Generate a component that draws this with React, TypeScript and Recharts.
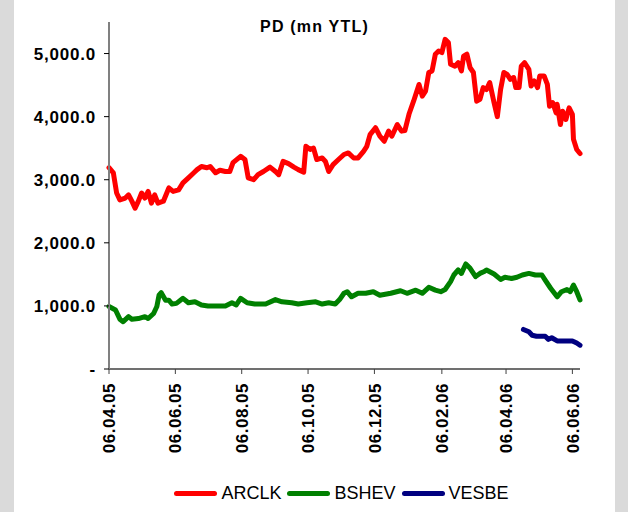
import React from "react";
import { LineChart, Line, XAxis, YAxis, Legend } from "recharts";

// x values are trading days counted from 06.04.05
const tickDays = [0, 61, 122, 183, 244, 306, 365, 426];
const tickLabels = ["06.04.05", "06.06.05", "06.08.05", "06.10.05", "06.12.05", "06.02.06", "06.04.06", "06.06.06"];
const yTicks = [0, 1000, 2000, 3000, 4000, 5000];

const arclkDays = [
	0, 4, 7, 10, 15, 18, 21, 24, 27, 30, 33, 36, 39, 42, 45, 50, 55, 59, 64, 68, 73, 78, 81, 85, 90, 93, 98, 102, 107,
	111, 114, 121, 125, 128, 133, 137, 142, 148, 153, 156, 160, 165, 170, 174, 179, 181, 185, 188, 191, 196, 199, 202,
	206, 211, 216, 220, 225, 229, 234, 237, 240, 245, 249, 253, 257, 260, 265, 269, 272, 276, 280, 285, 288, 291, 294,
	297, 300, 303, 306, 309, 312, 314, 318, 321, 324, 326, 329, 332, 335, 338, 341, 344, 347, 350, 354, 357, 360, 363,
	366, 369, 372, 374, 377, 379, 382, 386, 388, 391, 394, 396, 400, 403, 405, 408, 411, 412, 415, 417, 420, 423, 426,
	427, 430, 433,
];
const arclkValues = [
	3190, 3110, 2790, 2680, 2710, 2760, 2660, 2550, 2660, 2790, 2710, 2815, 2630, 2760, 2630, 2660, 2870, 2815, 2840,
	2950, 3030, 3110, 3160, 3210, 3190, 3210, 3110, 3150, 3130, 3130, 3270, 3370, 3320, 3030, 3000, 3080, 3130, 3200,
	3130, 3080, 3290, 3255, 3200, 3160, 3120, 3530, 3480, 3500, 3320, 3345, 3290, 3130, 3240, 3320, 3400, 3425, 3345,
	3345, 3450, 3530, 3715, 3825, 3690, 3610, 3770, 3690, 3875, 3770, 3780, 4050, 4245, 4510, 4325, 4405, 4700, 4725,
	4990, 5040, 5015, 5225, 5175, 4830, 4800, 4855, 4725, 4960, 4990, 4775, 4700, 4245, 4275, 4460, 4430, 4540, 4220,
	4000, 4430, 4700, 4670, 4590, 4620, 4460, 4460, 4800, 4855, 4750, 4485, 4565, 4460, 4645, 4645, 4510, 4165, 4220,
	4060, 4195, 3875, 4085, 3955, 4140, 4035, 3640, 3480, 3415,
];

const bshevDays = [
	0, 6, 10, 13, 18, 21, 27, 33, 36, 41, 44, 46, 48, 52, 55, 58, 62, 68, 73, 79, 85, 91, 101, 107, 113, 117, 121, 127,
	134, 144, 153, 159, 168, 174, 182, 190, 196, 202, 208, 212, 216, 219, 223, 229, 236, 243, 249, 259, 268, 274, 282,
	288, 294, 300, 305, 309, 314, 317, 321, 324, 328, 332, 337, 341, 345, 347, 354, 360, 364, 370, 375, 380, 386, 392,
	398, 401, 406, 412, 416, 421, 424, 427, 430, 433,
];
const bshevValues = [
	990, 935, 790, 750, 830, 790, 800, 830, 800, 880, 990, 1170, 1210, 1090, 1090, 1030, 1040, 1120, 1050, 1065, 1015,
	1000, 1000, 1000, 1050, 1015, 1120, 1050, 1030, 1030, 1100, 1065, 1050, 1030, 1050, 1065, 1030, 1050, 1030, 1100,
	1200, 1225, 1145, 1200, 1200, 1225, 1170, 1200, 1240, 1200, 1250, 1200, 1295, 1250, 1225, 1260, 1385, 1490, 1570,
	1515, 1665, 1595, 1465, 1515, 1545, 1570, 1505, 1420, 1455, 1435, 1455, 1490, 1515, 1490, 1490, 1410, 1280, 1145,
	1225, 1260, 1225, 1330, 1225, 1095,
];

const vesbeDays = [381, 386, 389, 393, 401, 404, 407, 412, 418, 426, 430, 433];
const vesbeValues = [627, 590, 535, 520, 520, 470, 495, 445, 445, 445, 413, 377];

const seriesNames = ["ARCLK", "BSHEV", "VESBE"];
const seriesColors = ["#ff0000", "#008000", "#000080"];

const toPoints = (days: number[], values: number[]) => days.map((day, i) => ({ day, value: values[i] }));
const seriesData = [
	toPoints(arclkDays, arclkValues),
	toPoints(bshevDays, bshevValues),
	toPoints(vesbeDays, vesbeValues),
];

const FONT = '"Liberation Sans", Arial, sans-serif';

const formatY = (v: number) =>
	v === 0 ? "-" : v.toLocaleString("en-US", { minimumFractionDigits: 1, maximumFractionDigits: 1 });

const DateTick = (props: any) => {
	const { x, y, payload } = props;
	const idx = tickDays.indexOf(payload.value);
	return (
		<g transform={`translate(${x},${y})`}>
			<text
				transform="rotate(-90)"
				textAnchor="end"
				dy="0.36em"
				fontSize={17}
				fontWeight="bold"
				letterSpacing={0.5}
				fill="#000"
				fontFamily={FONT}>
				{idx >= 0 ? tickLabels[idx] : ""}
			</text>
		</g>
	);
};

const LegendContent = () => (
	<div
		style={{
			display: "flex",
			justifyContent: "center",
			alignItems: "center",
			height: 26,
			fontFamily: FONT,
			fontSize: 18,
			color: "#000",
		}}>
		{seriesNames.map((name, i) => (
			<div key={name} style={{ display: "flex", alignItems: "center", marginRight: 6 }}>
				<span
					style={{
						display: "inline-block",
						width: 43,
						height: 5,
						borderRadius: 3,
						background: seriesColors[i],
						marginRight: 4,
					}}
				/>
				<span>{name}</span>
			</div>
		))}
	</div>
);

export default function App() {
	return (
		<div style={{ position: "absolute", left: 0, top: 0, width: 628, height: 512, background: "#dadada" }}>
			<div style={{ position: "absolute", left: 14, top: 0, width: 601, height: 512, background: "#fff" }}>
				<div
					style={{
						position: "absolute",
						left: 0,
						top: 18,
						width: 601,
						textAlign: "center",
						fontFamily: FONT,
						fontSize: 16,
						fontWeight: "bold",
						letterSpacing: 1.2,
						lineHeight: "18px",
					}}>
					PD (mn YTL)
				</div>
				<LineChart
					width={601}
					height={512}
					data={seriesData[0]}
					margin={{ top: 22, right: 35, bottom: 43, left: 0 }}
					style={{ fontFamily: FONT }}>
					<XAxis
						type="number"
						dataKey="day"
						domain={[0, 433]}
						ticks={tickDays}
						interval={0}
						height={100}
						tickSize={5}
						tickMargin={9}
						tick={<DateTick />}
						axisLine={{ stroke: "#404040", strokeWidth: 1.5 }}
						tickLine={{ stroke: "#404040" }}
					/>
					<YAxis
						type="number"
						domain={[0, 5500]}
						ticks={yTicks}
						interval={0}
						width={95}
						tickSize={5}
						tickMargin={8}
						tickFormatter={formatY}
						tick={{ fontSize: 17, fontWeight: "bold", fill: "#000", letterSpacing: 0.8 }}
						axisLine={{ stroke: "#808080", strokeWidth: 2 }}
						tickLine={{ stroke: "#000" }}
					/>
					{seriesNames.map((name, i) => (
						<Line
							key={name}
							data={seriesData[i]}
							dataKey="value"
							name={name}
							type="linear"
							stroke={seriesColors[i]}
							strokeWidth={5}
							strokeLinejoin="round"
							strokeLinecap="round"
							dot={false}
							isAnimationActive={false}
						/>
					))}
					<Legend
						layout="horizontal"
						verticalAlign="middle"
						align="center"
						content={<LegendContent />}
						wrapperStyle={{ top: 480, left: 95, width: 471 }}
					/>
				</LineChart>
			</div>
		</div>
	);
}
